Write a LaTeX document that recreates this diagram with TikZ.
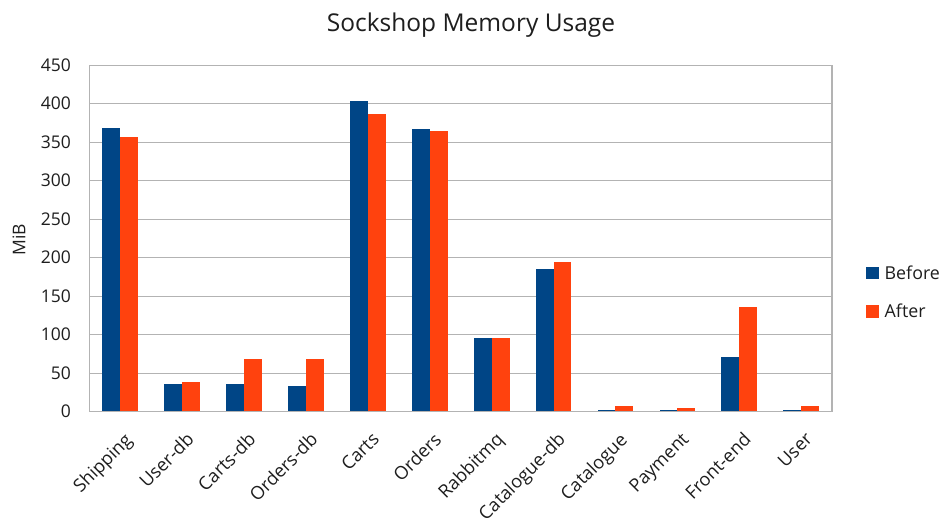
\documentclass[tikz,border=0pt]{standalone}
\usepackage{fontspec}
\setmainfont{Open Sans}
\definecolor{beforeblue}{HTML}{004586}
\definecolor{afterorange}{HTML}{FF420E}
\definecolor{gridgray}{HTML}{B3B3B3}
\definecolor{labeltext}{HTML}{1E1E1E}
\tikzset{
  gridline/.style={draw=gridgray, line width=1.3pt},
  ticklabel/.style={anchor=east, inner sep=0pt, text=labeltext, font=\fontsize{17.5}{20}\selectfont},
  catlabel/.style={rotate=45, anchor=north east, inner sep=0pt, text=labeltext, font=\fontsize{18.2}{21}\selectfont},
  legendlabel/.style={anchor=base west, inner sep=0pt, text=labeltext, font=\fontsize{17.8}{20}\selectfont},
  titlelabel/.style={anchor=base, inner sep=0pt, text=labeltext, font=\fontsize{24.5}{28}\selectfont},
}
\begin{document}
\begin{tikzpicture}[x=1pt, y=-1pt]
\useasboundingbox (0,0) rectangle (944,522);
\fill[white] (0,0) rectangle (944,522);

% plot area geometry (y grows downwards)
\def\xl{89.3}
\def\xr{832}
\def\yb{411.7}
\def\ppu{0.77}
\def\slot{61.9}
\def\barw{17.85}

% horizontal grid and value labels
\foreach \v in {0,50,...,450} {
  \pgfmathsetmacro\yy{\yb-\v*\ppu}
  \draw[gridline] (\xl,\yy) -- (\xr,\yy);
  \node[ticklabel] (tick\v) at (71,\yy) {\v};
}

% bars: before / after memory per service
\foreach \i/\name/\bv/\av in {
  0/Shipping/368/357,
  1/User-db/36.5/38,
  2/Carts-db/36.5/68,
  3/Orders-db/34/68,
  4/Carts/403/386,
  5/Orders/367/365,
  6/Rabbitmq/95.5/95.5,
  7/Catalogue-db/185/195,
  8/Catalogue/2.2/7,
  9/Payment/2.6/4.8,
  10/Front-end/70.5/135.5,
  11/User/2.6/7} {
  \pgfmathsetmacro\cx{\xl+\slot*(\i+0.5)}
  \fill[beforeblue] (\cx-\barw,\yb) rectangle (\cx,\yb-\bv*\ppu);
  \fill[afterorange] (\cx,\yb) rectangle (\cx+\barw,\yb-\av*\ppu);
  \node[catlabel] (cat\i) at (\cx+3,431) {\name};
}

% plot frame
\draw[gridline] (\xl,\yb-450*\ppu) rectangle (\xr,\yb);

% axis title and chart title
\node[rotate=90, inner sep=0pt, text=labeltext, font=\fontsize{17.5}{20}\selectfont] (ytitle) at (19,240) {MiB};
\node[titlelabel] (title) at (471,31.7) {Sockshop Memory Usage};

% legend
\fill[beforeblue] (866,267.3) rectangle (878.5,279);
\node[legendlabel] (legbefore) at (884.5,279) {Before};
\fill[afterorange] (866,305) rectangle (878.5,317.5);
\node[legendlabel] (legafter) at (884.5,317.5) {After};
\end{tikzpicture}
\end{document}
